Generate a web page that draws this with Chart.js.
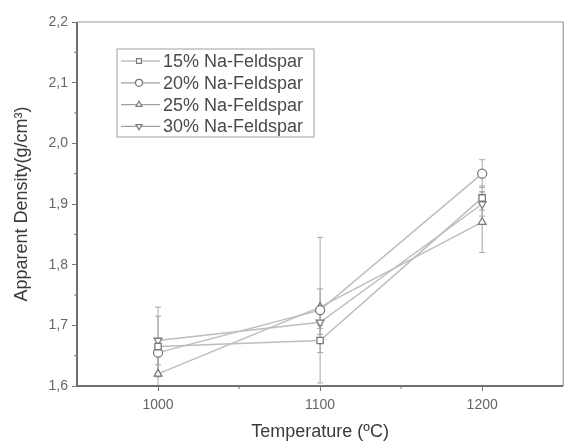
<!DOCTYPE html>
<html><head><meta charset="utf-8">
<script src="https://cdn.jsdelivr.net/npm/chart.js@4"></script>
<style>html,body{margin:0;padding:0;background:#fff}#wrap{width:569px;height:443px}</style>
</head><body><div id="wrap"><canvas id="c" width="569" height="443"></canvas></div>
<script>
const temperatures = [1000, 1100, 1200];
const xTicks = [1000, 1100, 1200];
const seriesNames = ['15% Na-Feldspar', '20% Na-Feldspar', '25% Na-Feldspar', '30% Na-Feldspar'];
const density15 = [1.665, 1.675, 1.91];
const density20 = [1.655, 1.725, 1.95];
const density25 = [1.62, 1.73, 1.87];
const density30 = [1.675, 1.705, 1.90];
const err15 = [0.05, 0.02, 0.02];
const err20 = [0.02, 0.12, 0.023];
const err25 = [0.03, 0.03, 0.05];
const err30 = [0.055, 0.02, 0.02];

const values = [density15, density20, density25, density30];
const errors = [err15, err20, err25, err30];
const styles = [
  {pointStyle: 'rect', rotation: 0},
  {pointStyle: 'circle', rotation: 0},
  {pointStyle: 'triangle', rotation: 0},
  {pointStyle: 'triangle', rotation: 180}
];
const FONT = '"Liberation Sans", Arial, sans-serif';

const datasets = values.map((v, i) => ({
  label: seriesNames[i],
  data: temperatures.map((t, j) => ({x: t, y: v[j]})),
  errs: errors[i],
  showLine: true,
  borderColor: '#bdbdbd',
  borderWidth: 1.5,
  pointStyle: styles[i].pointStyle,
  rotation: styles[i].rotation,
  pointRadius: 4.5,
  pointBorderColor: '#7a7a7a',
  pointBackgroundColor: '#ffffff',
  pointBorderWidth: 1.3,
  clip: false
}));

const extras = {
  id: 'extras',
  beforeDatasetsDraw(chart) {
    const ctx = chart.ctx, xs = chart.scales.x, ys = chart.scales.y;
    ctx.save();
    ctx.strokeStyle = '#a5a5a5';
    ctx.lineWidth = 1;
    chart.data.datasets.forEach(ds => {
      ds.data.forEach((p, j) => {
        const e = ds.errs[j];
        const x = xs.getPixelForValue(p.x);
        const y1 = ys.getPixelForValue(Math.max(p.y - e, ys.min));
        const y2 = ys.getPixelForValue(p.y + e);
        ctx.beginPath();
        ctx.moveTo(x, y1); ctx.lineTo(x, y2);
        ctx.moveTo(x - 3, y2); ctx.lineTo(x + 3, y2);
        if (p.y - e >= ys.min) { ctx.moveTo(x - 3, y1); ctx.lineTo(x + 3, y1); }
        ctx.stroke();
      });
    });
    ctx.restore();
  },
  afterDraw(chart) {
    const ctx = chart.ctx, a = chart.chartArea, xs = chart.scales.x, ys = chart.scales.y;
    ctx.save();
    ctx.strokeStyle = '#999';
    ctx.lineWidth = 1.2;
    ctx.beginPath();
    ctx.moveTo(a.left, a.top); ctx.lineTo(a.right, a.top); ctx.lineTo(a.right, a.bottom);
    ctx.stroke();
    ctx.strokeStyle = '#6e6e6e';
    ctx.lineWidth = 2;
    ctx.beginPath();
    ctx.moveTo(a.left, a.top); ctx.lineTo(a.left, a.bottom); ctx.lineTo(a.right, a.bottom);
    ctx.stroke();
    ctx.lineWidth = 1;
    ctx.strokeStyle = '#777';
    for (let v = ys.min + 0.05; v < ys.max; v += 0.1) {
      const y = ys.getPixelForValue(v);
      ctx.beginPath(); ctx.moveTo(a.left - 3, y); ctx.lineTo(a.left, y); ctx.stroke();
    }
    for (let v = 1050; v < xs.max; v += 100) {
      const x = xs.getPixelForValue(v);
      ctx.beginPath(); ctx.moveTo(x, a.bottom); ctx.lineTo(x, a.bottom + 3); ctx.stroke();
    }
    // legend
    const lx = 117, ly = 49, lw = 197, lh = 88;
    ctx.strokeStyle = '#a0a0a0';
    ctx.lineWidth = 1;
    ctx.strokeRect(lx, ly, lw, lh);
    ctx.font = '18px ' + FONT;
    ctx.textBaseline = 'middle';
    chart.data.datasets.forEach((ds, i) => {
      const y = ly + 12 + i * 21.8;
      ctx.strokeStyle = '#a0a0a0';
      ctx.lineWidth = 1.2;
      ctx.beginPath(); ctx.moveTo(lx + 4, y); ctx.lineTo(lx + 43, y); ctx.stroke();
      ctx.fillStyle = '#fff';
      ctx.strokeStyle = '#7a7a7a';
      Chart.helpers.drawPoint(ctx, {pointStyle: ds.pointStyle, rotation: ds.rotation, radius: 3.5, borderWidth: 1.2}, lx + 22, y);
      ctx.fillStyle = '#4a4a4a';
      ctx.fillText(ds.label, lx + 46, y + 1);
    });
    ctx.restore();
  }
};

new Chart(document.getElementById('c'), {
  type: 'scatter',
  data: {datasets},
  options: {
    responsive: false,
    animation: false,
    layout: {padding: {top: 22, right: 4, left: 0, bottom: 0}},
    plugins: {legend: {display: false}, tooltip: {enabled: false}},
    scales: {
      x: {
        type: 'linear', min: 950, max: 1250,
        afterBuildTicks: s => { s.ticks = xTicks.map(v => ({value: v})); },
        afterFit: s => { s.height = 57; },
        border: {display: false},
        grid: {drawOnChartArea: false, drawTicks: true, tickLength: 5, color: '#777'},
        ticks: {color: '#666', font: {family: FONT, size: 14}, padding: 6, callback: v => String(v)},
        title: {display: true, text: 'Temperature (ºC)', color: '#3a3a3a', font: {family: FONT, size: 18}, padding: {top: 4, bottom: 0}}
      },
      y: {
        type: 'linear', min: 1.6, max: 2.2,
        afterFit: s => { s.width = 77; },
        border: {display: false},
        grid: {drawOnChartArea: false, drawTicks: true, tickLength: 5, color: '#777'},
        ticks: {stepSize: 0.1, color: '#666', padding: 4, font: {family: FONT, size: 14},
          callback: v => v.toFixed(1).replace('.', ',')},
        title: {display: true, text: 'Apparent Density(g/cm³)', color: '#3a3a3a', font: {family: FONT, size: 18}, padding: {top: 11, bottom: 0}}
      }
    }
  },
  plugins: [extras]
});
</script></body></html>
